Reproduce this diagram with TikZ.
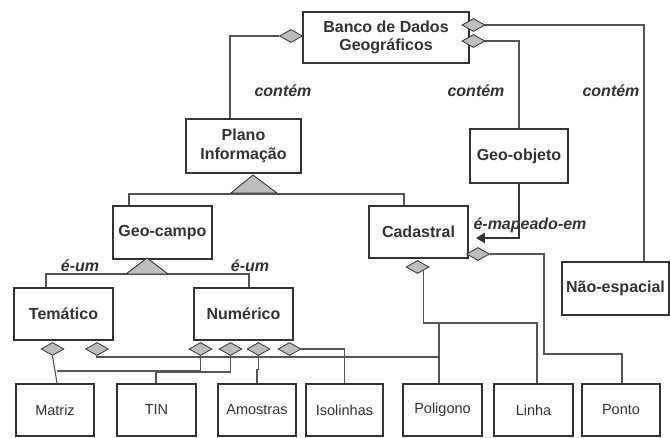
\documentclass[tikz,border=0pt]{standalone}
\usepackage{fontspec}
\setmainfont{Liberation Sans}
\usetikzlibrary{shapes.geometric,arrows.meta,calc}
\definecolor{ink}{HTML}{333333}
\definecolor{wire}{HTML}{555555}
\definecolor{shade}{HTML}{BDBDBD}
\tikzset{
  entity/.style={draw=ink, line width=1.8pt, fill=white, text=ink, align=center,
    inner sep=0pt, font=\bfseries\fontsize{16}{18.5}\selectfont},
  leaf/.style={entity, font=\fontsize{14.5}{18}\selectfont},
  conn/.style={draw=wire, line width=1.1pt},
  agg/.style={diamond, draw=ink, line width=0.8pt, fill=shade,
    minimum width=23pt, minimum height=13pt, inner sep=0pt},
  isa/.style={draw=ink, line width=0.9pt, fill=shade},
  role/.style={text=ink, inner sep=0pt, font=\bfseries\itshape\fontsize{16}{18}\selectfont},
  maps/.style={draw=ink, line width=2.2pt, -{Triangle[length=9pt,width=10pt]}},
}
\begin{document}
\begin{tikzpicture}[x=1pt,y=-1pt]
\useasboundingbox (0,0) rectangle (670,437);

% classes
\node[entity, minimum width=166pt, minimum height=51pt] (bdg) at (386,37.5) {Banco de Dados\\Geográficos};
\node[entity, minimum width=115pt, minimum height=54pt] (plano) at (243.5,146) {Plano\\Informação};
\node[entity, minimum width=98pt, minimum height=54pt] (geoobj) at (519,156) {Geo-objeto};
\node[entity, minimum width=99pt, minimum height=53pt] (geocampo) at (162.5,232.5) {Geo-campo};
\node[entity, minimum width=99pt, minimum height=52pt] (cadastral) at (418.5,232) {Cadastral};
\node[entity, minimum width=107pt, minimum height=53pt] (naoesp) at (615.5,288.5) {Não-espacial};
\node[entity, minimum width=99pt, minimum height=52pt] (tematico) at (63.5,314) {Temático};
\node[entity, minimum width=99pt, minimum height=52pt] (numerico) at (243.5,314) {Numérico};

% representations
\node[leaf, minimum width=78pt, minimum height=52pt] (matriz) at (55,410) {Matriz};
\node[leaf, minimum width=79pt, minimum height=52pt] (tin) at (156.5,410) {TIN};
\node[leaf, minimum width=78pt, minimum height=52pt] (amostras) at (257,410) {Amostras};
\node[leaf, minimum width=77pt, minimum height=52pt] (isolinhas) at (344.5,410) {Isolinhas};
\node[leaf, minimum width=79pt, minimum height=52pt] (poligono) at (442.5,410) {Poligono};
\node[leaf, minimum width=79pt, minimum height=52pt] (linha) at (533.5,410) {Linha};
\node[leaf, minimum width=78pt, minimum height=52pt] (ponto) at (621,410) {Ponto};

% aggregation diamonds
\node[agg] (dBL) at (291,36) {};
\node[agg] (dR1) at (473.5,25) {};
\node[agg] (dR2) at (473.5,41) {};
\node[agg] (dCb) at (417.5,267) {};
\node[agg] (dCr) at (478,254) {};
\node[agg] (dT1) at (52.5,349) {};
\node[agg] (dT2) at (97,349) {};
\node[agg] (dN1) at (200.5,349) {};
\node[agg] (dN2) at (230.5,349) {};
\node[agg] (dN3) at (258.5,349) {};
\node[agg] (dN4) at (289.5,349) {};

% relationship labels
\node[role] (c1) at (283,91) {contém};
\node[role] (c2) at (476,91) {contém};
\node[role] (c3) at (611,91) {contém};
\node[role] (mp) at (530,225) {é-mapeado-em};
\node[role] (u1) at (80,266) {é-um};
\node[role] (u2) at (250,266) {é-um};

% "contém" links
\draw[conn] (dBL.west) -| (plano.north -| 230,0);
\draw[conn] (dR1.east) -| (naoesp.north -| 644,0);
\draw[conn] (dR2.east) -| (geoobj.north);

% é-mapeado-em
\coordinate (mapend) at ($(cadastral.east)+(7,6)$);
\draw[maps] (geoobj.south) |- (mapend);

% generalisation of Plano Informação
\coordinate (isa1) at (254,194);
\draw[conn] (geocampo.north -| 129,0) |- (isa1) -| (cadastral.north -| 404,0);
\draw[isa] (231,193) -- (253,175) -- (277,193) -- cycle;

% generalisation of Geo-campo
\coordinate (isa2) at (147,274);
\draw[conn] (tematico.north -| 46,0) |- (isa2) -| (numerico.north -| 249,0);
\draw[isa] (126,274) -- (147,258) -- (168,274) -- cycle;

% Cadastral representations
\coordinate (cadfork) at (537,323);
\draw[conn] (dCb.south east) |- (cadfork) -- (linha.north -| cadfork);
\draw[conn] (cadfork -| 439,0) -- (poligono.north -| 439,0);
\draw[conn] (dCr.east) -| (544,354) -| (ponto.north -| 622,0);

% Temático / Numérico representations
\draw[conn] (dT1.south) -- (matriz.north -| 57,0);
\draw[conn] (dN1.south) |- (57,371);
\draw[conn] (dN2.south) |- (156,372) -- (tin.north -| 156,0);
\draw[conn] (dN3.south) -- ++(0,14) -| (amostras.north);
\draw[conn] (dN4.east) -| (isolinhas.north);
\draw[conn] (dT2.south) |- (439,357);
\end{tikzpicture}
\end{document}
